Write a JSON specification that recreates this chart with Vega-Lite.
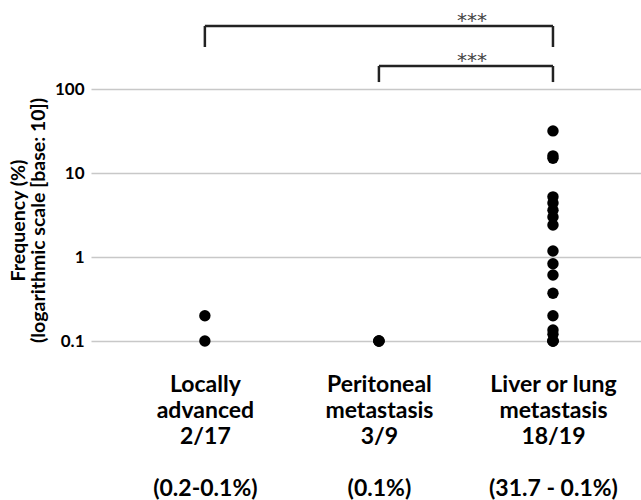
{
  "$schema": "https://vega.github.io/schema/vega-lite/v6.json",
  "width": 550,
  "height": 336,
  "autosize": "none",
  "padding": {"left": 91, "top": 5, "right": 0, "bottom": 159},
  "background": "white",
  "config": {"view": {"stroke": null}, "font": "Lato"},
  "resolve": {"axis": {"x": "independent"}},
  "datasets": {
    "points": [
      {"group": "LA", "freq": 0.2},
      {"group": "LA", "freq": 0.1},
      {"group": "PM", "freq": 0.1},
      {"group": "PM", "freq": 0.1},
      {"group": "PM", "freq": 0.1},
      {"group": "LL", "freq": 31.7},
      {"group": "LL", "freq": 16},
      {"group": "LL", "freq": 15},
      {"group": "LL", "freq": 5.2},
      {"group": "LL", "freq": 4.4},
      {"group": "LL", "freq": 3.6},
      {"group": "LL", "freq": 3.0},
      {"group": "LL", "freq": 2.4},
      {"group": "LL", "freq": 1.18},
      {"group": "LL", "freq": 0.83},
      {"group": "LL", "freq": 0.61},
      {"group": "LL", "freq": 0.37},
      {"group": "LL", "freq": 0.2},
      {"group": "LL", "freq": 0.135},
      {"group": "LL", "freq": 0.12},
      {"group": "LL", "freq": 0.1},
      {"group": "LL", "freq": 0.1},
      {"group": "LL", "freq": 0.1}
    ],
    "brackets": [
      {"from": "LA", "to": "LL", "top": 562, "bottom": 316, "label": "***"},
      {"from": "PM", "to": "LL", "top": 188, "bottom": 121, "label": "***"}
    ]
  },
  "layer": [
    {
      "data": {"name": "points"},
      "mark": {"type": "point", "filled": true, "color": "black", "opacity": 1, "size": 130, "clip": false},
      "encoding": {
        "x": {
          "field": "group", "type": "nominal",
          "scale": {"type": "point", "domain": ["LA", "PM", "LL"], "padding": 0.58, "align": 0.564},
          "axis": {
            "orient": "bottom", "title": null, "domain": false, "ticks": false, "grid": false,
            "labelAngle": 0, "labelFontSize": 23, "labelFontWeight": "bold", "labelColor": "black",
            "labelLineHeight": 26, "labelBaseline": "top", "labelPadding": 32, "labelAlign": "center",
            "labelFont": "Lato",
            "labelExpr": "datum.value == 'LA' ? ['Locally', 'advanced', '2/17'] : datum.value == 'PM' ? ['Peritoneal', 'metastasis', '3/9'] : ['Liver or lung', 'metastasis', '18/19']"
          }
        },
        "y": {
          "field": "freq", "type": "quantitative",
          "scale": {"type": "log", "domain": [0.1, 1000], "nice": false},
          "axis": {
            "values": [0.1, 1, 10, 100], "domain": false, "ticks": false,
            "grid": true, "gridColor": "#c8c8c8", "gridWidth": 1.5,
            "labelFontSize": 17, "labelFontWeight": "bold", "labelColor": "black", "labelPadding": 7,
            "labelExpr": "datum.value == 0.1 ? '0.1' : format(datum.value, 'd')",
            "title": ["Frequency (%)", "(logarithmic scale [base: 10])"],
            "titleFontSize": 19.5, "titleFontWeight": "bold", "titleColor": "black",
            "titleLineHeight": 20, "titlePadding": 6, "titleY": 215
          }
        }
      }
    },
    {
      "data": {"name": "brackets"},
      "mark": {"type": "rule", "color": "#222", "strokeWidth": 2.5, "clip": false},
      "encoding": {
        "x": {
          "field": "from", "type": "nominal",
          "axis": {
            "orient": "bottom", "title": null, "domain": false, "ticks": false, "grid": false,
            "labelAngle": 0, "labelFontSize": 23, "labelFontWeight": "bold", "labelColor": "black",
            "labelBaseline": "top", "labelPadding": 136, "labelAlign": "center",
            "labelFont": "Lato",
            "labelExpr": "datum.value == 'LA' ? '(0.2-0.1%)' : datum.value == 'PM' ? '(0.1%)' : '(31.7 - 0.1%)'"
          }
        },
        "x2": {"field": "to"},
        "y": {"field": "top", "type": "quantitative"}
      }
    },
    {
      "data": {"name": "brackets"},
      "mark": {"type": "rule", "color": "#222", "strokeWidth": 2.5, "clip": false},
      "encoding": {
        "x": {"field": "from", "type": "nominal", "axis": null},
        "y": {"field": "top", "type": "quantitative"},
        "y2": {"field": "bottom"}
      }
    },
    {
      "data": {"name": "brackets"},
      "mark": {"type": "rule", "color": "#222", "strokeWidth": 2.5, "clip": false},
      "encoding": {
        "x": {"field": "to", "type": "nominal", "axis": null},
        "y": {"field": "top", "type": "quantitative"},
        "y2": {"field": "bottom"}
      }
    },
    {
      "data": {"name": "brackets"},
      "mark": {"type": "text", "color": "#444", "fontSize": 20, "font": "DejaVu Sans", "baseline": "alphabetic", "dx": -81, "dy": 1, "clip": false},
      "encoding": {
        "x": {"field": "to", "type": "nominal", "axis": null},
        "y": {"field": "top", "type": "quantitative"},
        "text": {"field": "label"}
      }
    }
  ]
}
